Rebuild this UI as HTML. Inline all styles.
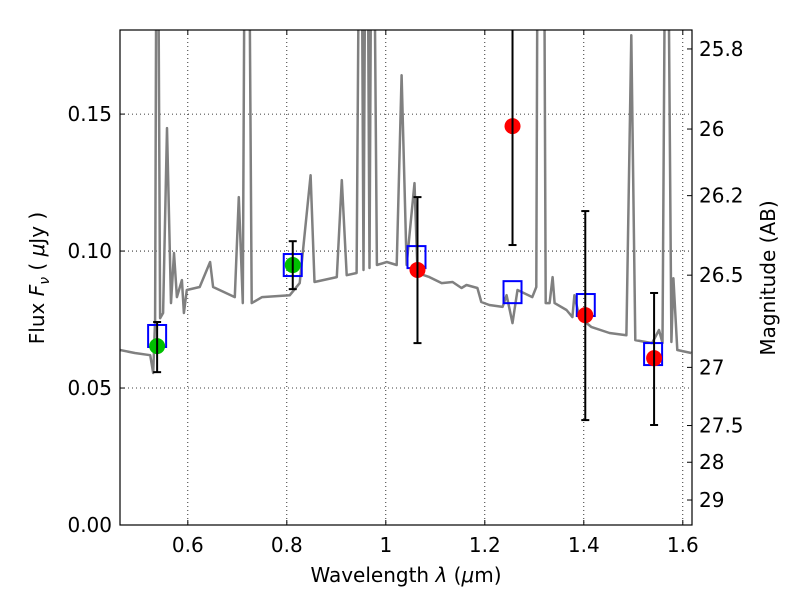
<!DOCTYPE html>
<html><head><meta charset="utf-8"><style>
body{margin:0;background:#fff}
svg text{font-family:"DejaVu Sans","Liberation Sans",sans-serif;fill:#000}
</style></head><body>
<svg id="chart" width="800" height="600" xmlns="http://www.w3.org/2000/svg">
<rect width="800" height="600" fill="#fff"/>
<defs><clipPath id="clip"><rect x="120" y="30" width="572" height="495"/></clipPath></defs>
<g id="grid"></g>
<g id="spec" clip-path="url(#clip)"></g>
<g id="marks" clip-path="url(#clip)"></g>
<rect x="120" y="30" width="572" height="495" fill="none" stroke="#000" stroke-width="1.2"/>
<g id="axes"></g>
<text x="406" y="582" font-size="20" text-anchor="middle">Wavelength  <tspan font-style="italic">λ</tspan> (<tspan font-style="italic">μ</tspan>m)</text>
<text transform="translate(44,278) rotate(-90)" font-size="20" text-anchor="middle">Flux  <tspan font-style="italic">F</tspan><tspan font-size="14" font-style="italic" dy="5">ν</tspan><tspan dy="-5">  ( </tspan><tspan font-style="italic">μ</tspan>Jy )</text>
<text transform="translate(775,278) rotate(-90)" font-size="20" text-anchor="middle">Magnitude (AB)</text>
</svg>
<script>
const specLam=[0.463,0.493,0.524,0.530,0.534,0.538,0.544,0.550,0.558,0.566,0.572,0.578,0.588,0.592,0.598,0.624,0.645,0.651,0.695,0.703,0.711,0.717,0.721,0.729,0.750,0.806,0.826,0.848,0.856,0.901,0.911,0.921,0.941,0.949,0.955,0.961,0.967,0.973,0.982,1.002,1.022,1.032,1.042,1.058,1.064,1.088,1.113,1.135,1.153,1.163,1.185,1.193,1.209,1.236,1.244,1.256,1.266,1.296,1.304,1.308,1.318,1.323,1.331,1.337,1.341,1.365,1.377,1.381,1.391,1.415,1.452,1.486,1.496,1.504,1.538,1.552,1.559,1.567,1.577,1.581,1.589,1.617];
const specFlux=[0.0639,0.0628,0.0620,0.0555,0.0748,0.30,0.0755,0.0774,0.1449,0.0810,0.0993,0.0832,0.0894,0.0774,0.0858,0.0869,0.0960,0.0869,0.0832,0.1197,0.0810,0.30,0.30,0.0810,0.0832,0.0839,0.0883,0.1277,0.0887,0.0905,0.1259,0.0912,0.0920,0.30,0.0931,0.30,0.0938,0.30,0.0949,0.0960,0.0949,0.1642,0.0949,0.1248,0.0920,0.0905,0.0883,0.0887,0.0865,0.0876,0.0865,0.0814,0.0803,0.0796,0.0839,0.0737,0.0858,0.0832,0.0869,0.30,0.30,0.0810,0.0810,0.0905,0.0810,0.0785,0.0759,0.0839,0.0759,0.0723,0.0701,0.0693,0.1788,0.0675,0.0664,0.0712,0.0664,0.30,0.0668,0.0901,0.0639,0.0628];
const modelLam=[0.538,0.812,1.062,1.256,1.404,1.540];
const modelFlux=[0.069,0.0949,0.0978,0.085,0.0803,0.0624];
const obsLam=[0.538,0.812,1.064,1.256,1.403,1.542];
const obsFlux=[0.0653,0.0949,0.0931,0.1456,0.0766,0.0609];
const obsHi=[0.0741,0.1036,0.1197,0.189,0.1146,0.0847];
const obsLo=[0.0558,0.0861,0.0664,0.1022,0.0383,0.0365];
const obsColor=['#00c000','#00c000','#ff0000','#ff0000','#ff0000','#ff0000'];
const xTicks=[0.6,0.8,1.0,1.2,1.4,1.6];
const xTickLabels=['0.6','0.8','1','1.2','1.4','1.6'];
const yTicks=[0,0.05,0.10,0.15];
const yTickLabels=['0.00','0.05','0.10','0.15'];
const magTicks=[25.8,26,26.2,26.5,27,27.5,28,29];
const magTickLabels=['25.8','26','26.2','26.5','27','27.5','28','29'];

const X0=120,X1=692,Y0=525,Y1=30,LMIN=0.463,LMAX=1.6186,FMIN=0,FMAX=0.1807;
const sx=l=>X0+(l-LMIN)/(LMAX-LMIN)*(X1-X0);
const sy=f=>Y0-(f-FMIN)/(FMAX-FMIN)*(Y0-Y1);
const magToFlux=m=>Math.pow(10,(23.9-m)/2.5);
const NS='http://www.w3.org/2000/svg';
function mk(tag,parent,attrs){const e=document.createElementNS(NS,tag);for(const k in attrs)e.setAttribute(k,attrs[k]);parent.appendChild(e);return e;}
const grid=document.getElementById('grid'),axes=document.getElementById('axes'),spec=document.getElementById('spec'),marks=document.getElementById('marks');

xTicks.forEach((t,i)=>{const x=sx(t);
 const g=mk('line',grid,{x1:x,x2:x,y1:Y1,y2:Y0,stroke:'#000','stroke-width':0.8,'stroke-dasharray':'1,3'});
 
 
 mk('line',axes,{x1:x,x2:x,y1:Y0,y2:Y0-5,stroke:'#000'});
 mk('line',axes,{x1:x,x2:x,y1:Y1,y2:Y1+5,stroke:'#000'});
 const tx=mk('text',axes,{x:x,y:Y0+27,'font-size':20,'text-anchor':'middle'});tx.textContent=xTickLabels[i];
 
 
});
yTicks.forEach((t,i)=>{const y=sy(t);
 const g=mk('line',grid,{x1:X0,x2:X1,y1:y,y2:y,stroke:'#000','stroke-width':0.8,'stroke-dasharray':'1,3'});
 
 
 mk('line',axes,{x1:X0,x2:X0+5,y1:y,y2:y,stroke:'#000'});
 const tx=mk('text',axes,{x:X0-8,y:y+7,'font-size':20,'text-anchor':'end'});tx.textContent=yTickLabels[i];
 
 
});
magTicks.forEach((m,i)=>{const y=sy(magToFlux(m));
 mk('line',axes,{x1:X1,x2:X1-5,y1:y,y2:y,stroke:'#000'});
 const tx=mk('text',axes,{x:X1+7,y:y+7,'font-size':20});tx.textContent=magTickLabels[i];
 
 
});
const pts=specLam.map((l,i)=>sx(l).toFixed(1)+','+sy(specFlux[i]).toFixed(1)).join(' ');
const pl=mk('polyline',spec,{points:pts,fill:'none',stroke:'#808080','stroke-width':2.5,'stroke-linejoin':'round'});


modelLam.forEach((l,i)=>{const x=sx(l),y=sy(modelFlux[i]);
 const r=mk('rect',marks,{x:x-9,y:y-11,width:18,height:22,fill:'none',stroke:'#0000ff','stroke-width':2});
 
 
});
obsLam.forEach((l,i)=>{const x=sx(l),c=obsColor[i];
 const c1=mk('circle',marks,{cx:x,cy:sy(obsFlux[i]),r:8,fill:c});
 
 
 const e=mk('line',marks,{x1:x,x2:x,y1:sy(obsHi[i]),y2:sy(obsLo[i]),stroke:'#000','stroke-width':2});
 
 
 [obsHi[i],obsLo[i]].forEach(v=>mk('line',marks,{x1:x-4,x2:x+4,y1:sy(v),y2:sy(v),stroke:'#000','stroke-width':2}));
});
</script>
</body></html>
